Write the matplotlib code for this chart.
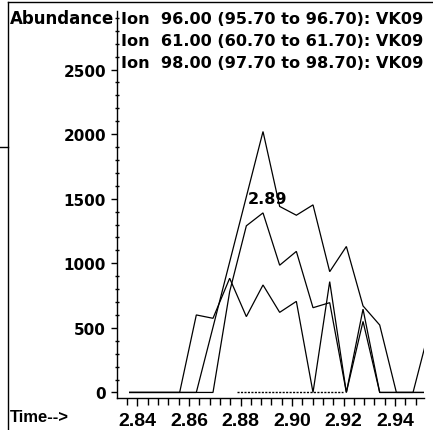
import matplotlib
matplotlib.use("Agg")
import matplotlib.pyplot as plt
from matplotlib.lines import Line2D
from matplotlib.ticker import MultipleLocator, FixedLocator

# ---- data ----
times = [2.83695, 2.84342, 2.84990, 2.85637, 2.86284, 2.86932, 2.87579,
         2.88227, 2.88874, 2.89521, 2.90169, 2.90816, 2.91464, 2.92111,
         2.92758, 2.93406, 2.94053, 2.94700, 2.95348]
ion96 = [0, 0, 0, 0, 0, 505, 1010, 1515, 2020, 1440, 1372, 1452, 935, 1130,
         670, 522, 0, 0, 0]
ion61 = [0, 0, 0, 0, 0, 0, 780, 1290, 1390, 985, 1092, 656, 695, 0,
         645, 0, 0, 0, 0]
ion98 = [0, 0, 0, 0, 600, 574, 884, 587, 832, 620, 705, 0, 858, 0,
         550, 0, 0, 0, 500]
trace_labels = ["Ion  96.00 (95.70 to 96.70): VK09",
                "Ion  61.00 (60.70 to 61.70): VK09",
                "Ion  98.00 (97.70 to 98.70): VK09"]
peak_label = "2.89"
peak_label_y = 1500
baseline_span = [2.8786, 2.9198]
xticks = [2.84, 2.86, 2.88, 2.90, 2.92, 2.94]
yticks = [0, 500, 1000, 1500, 2000, 2500]

W, H = 433, 431
fig = plt.figure(figsize=(W / 100, H / 100), dpi=100)
ax = fig.add_axes([117 / W, 32 / H, (424 - 117) / W, (399 - 12) / H])

for series in (ion96, ion61, ion98):
    ax.plot(times, series, color="black", lw=0.9, solid_joinstyle="miter")

ax.plot(baseline_span, [0, 0], color="black", lw=1.0, ls=(0, (1.5, 1.0)))

peak_i = ion96.index(max(ion96))
ax.text(times[peak_i] + 0.0019, peak_label_y, peak_label, ha="center",
        va="center", fontsize=11.5, fontweight="bold", family="DejaVu Sans")

ax.set_xlim(2.83204, 2.95126)
ax.set_ylim(-43, 2953)

for s in ("top", "right"):
    ax.spines[s].set_visible(False)
for s in ("left", "bottom"):
    ax.spines[s].set_linewidth(1.0)

ax.xaxis.set_major_locator(FixedLocator(xticks))
ax.xaxis.set_minor_locator(MultipleLocator(0.004))
ax.yaxis.set_major_locator(FixedLocator(yticks))
ax.yaxis.set_minor_locator(MultipleLocator(100))
ax.set_xticklabels([f"{t:.2f}" for t in xticks])
ax.set_yticklabels([str(t) for t in yticks])

ax.tick_params(axis="x", which="major", direction="out", length=6, width=1,
               pad=4, labelsize=14)
ax.tick_params(axis="x", which="minor", direction="out", length=5, width=1)
ax.tick_params(axis="y", which="major", direction="out", length=4, width=1,
               pad=4, labelsize=11)
ax.tick_params(axis="y", which="minor", direction="inout", length=3, width=1)
for lab in ax.get_xticklabels():
    lab.set_family("Liberation Sans")
    lab.set_fontweight("bold")
for lab in ax.get_yticklabels():
    lab.set_family("DejaVu Sans")
    lab.set_fontweight("bold")

# header texts
fig.text(10 / W, 1 - 19 / H, "Abundance", ha="left", va="center",
         fontsize=12, fontweight="bold", family="DejaVu Sans")
for i, lbl in enumerate(trace_labels):
    fig.text(121 / W, 1 - (19 + 22 * i) / H, lbl, ha="left", va="center",
             fontsize=11.6, fontweight="bold", family="DejaVu Sans")
fig.text(10 / W, 1 - 418 / H, "Time-->", ha="left", va="center",
         fontsize=12, fontweight="bold", family="Liberation Sans")

# scanned page border lines
fig.add_artist(Line2D([8 / W, 1], [1 - 3 / H, 1 - 3 / H], color="black", lw=1.0))
fig.add_artist(Line2D([8 / W, 8 / W], [0, 1 - 3 / H], color="black", lw=1.0))
fig.add_artist(Line2D([0, 8 / W], [1 - 148 / H, 1 - 148 / H], color="black", lw=1.0))

fig.savefig("out.png", dpi=100)
